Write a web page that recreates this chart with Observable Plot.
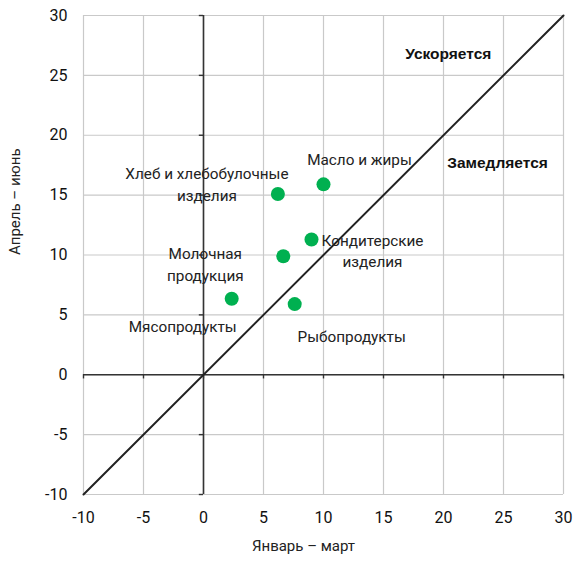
<!DOCTYPE html>
<html>
<head>
<meta charset="utf-8">
<script src="https://cdn.jsdelivr.net/npm/d3@7"></script>
<script src="https://cdn.jsdelivr.net/npm/@observablehq/plot@0.6"></script>
<style>
  html, body { margin: 0; padding: 0; background: #fff; }
  svg { display: block; }
</style>
</head>
<body>
<div id="chart"></div>
<script>
// Data
const categories = ["Хлеб и хлебобулочные\nизделия", "Масло и жиры", "Кондитерские\nизделия", "Молочная\nпродукция", "Мясопродукты", "Рыбопродукты"];
const janMar = [6.2, 10.0, 9.0, 6.65, 2.35, 7.6];
const aprJun = [15.1, 15.9, 11.3, 9.9, 6.35, 5.9];
const xTicks = [-10, -5, 0, 5, 10, 15, 20, 25, 30];
const yTicks = [-10, -5, 0, 5, 10, 15, 20, 25, 30];
const zoneLabels = ["Ускоряется", "Замедляется"];
const zoneX = [20.4, 24.5];
const zoneY = [26.75, 17.65];
const diagonal = [-10, 30];

const points = categories.map((c, i) => ({name: c, x: janMar[i], y: aprJun[i]}));
const zones = zoneLabels.map((t, i) => ({t, x: zoneX[i], y: zoneY[i]}));

// Label placement (layout, in pixels)
const labelOffset = [
  {dx: -71, dy: -11},
  {dx: 36, dy: -26},
  {dx: 61, dy: 10},
  {dx: -78, dy: 7},
  {dx: -49, dy: 26},
  {dx: 57, dy: 31}
];

const font = "Roboto, 'Open Sans', sans-serif";
const ink = "#222";
const fmt = d => String(d);

const labelMarks = points.map((p, i) => Plot.text([p], {
  x: "x", y: "y", text: "name",
  dx: labelOffset[i].dx, dy: labelOffset[i].dy,
  fontSize: 15.3, lineHeight: 1.42, fill: ink, fontFamily: font
}));

const chart = Plot.plot({
  width: 573,
  height: 561,
  marginLeft: 83,
  marginRight: 10,
  marginTop: 15,
  marginBottom: 67,
  style: {fontFamily: font, background: "#fff"},
  x: {domain: [-10, 30]},
  y: {domain: [-10, 30]},
  marks: [
    Plot.gridX(xTicks, {stroke: "#c9c9c9", strokeOpacity: 1, strokeWidth: 1.2}),
    Plot.gridY(yTicks, {stroke: "#c9c9c9", strokeOpacity: 1, strokeWidth: 1.2}),
    Plot.axisX(xTicks, {tickSize: 0, tickPadding: 17, fontSize: 16, fill: "#111", label: null, tickFormat: fmt}),
    Plot.axisY(yTicks, {tickSize: 0, tickPadding: 16, fontSize: 16, fill: "#111", label: null, tickFormat: fmt}),
    Plot.ruleX([0], {stroke: "#333", strokeWidth: 1.6}),
    Plot.ruleY([0], {stroke: "#333", strokeWidth: 1.6}),
    Plot.ruleX(xTicks, {x: d => d, y1: 0, y2: -0.35, stroke: "#333", strokeWidth: 1.4}),
    Plot.ruleY(yTicks, {y: d => d, x1: -0.35, x2: 0, stroke: "#333", strokeWidth: 1.4}),
    Plot.line(diagonal.map(v => ({x: v, y: v})), {x: "x", y: "y", stroke: "#222", strokeWidth: 2}),
    Plot.dot(points, {x: "x", y: "y", r: 7, fill: "#00b050", stroke: "none"}),
    ...labelMarks,
    Plot.text(zones, {x: "x", y: "y", text: "t", fontWeight: "bold", fontSize: 15.5, fill: "#111", fontFamily: "'Liberation Sans', Arial, sans-serif"}),
    Plot.text(["Январь – март"], {frameAnchor: "bottom", dx: -20, dy: 56, fontSize: 15, fill: ink}),
    Plot.text(["Апрель – июнь"], {frameAnchor: "left", dx: -68, rotate: -90, fontSize: 15, fill: ink})
  ]
});

document.getElementById("chart").appendChild(chart);
</script>
</body>
</html>
